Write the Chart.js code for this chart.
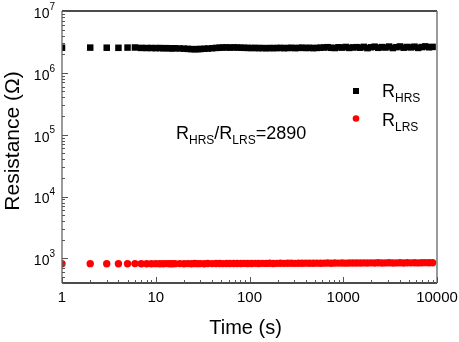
<!DOCTYPE html>
<html>
<head>
<meta charset="utf-8">
<script src="https://cdn.jsdelivr.net/npm/chart.js@4/dist/chart.umd.min.js"></script>
<style>
  html, body { margin: 0; padding: 0; background: #fff; }
  #myChart { display: block; }
</style>
</head>
<body>
<canvas id="myChart" width="459" height="342"></canvas>
<script>
// 측정 시간 (s)
var times = [1,2,3,4,5,6,7,8,9,10,11,12,13,14,15,16,
  18,20,22,24,26,28,30,33,36,40,
  44,48,52,57,62,68,74,81,88,96,
  105,115,125,137,150,164,179,196,214,234,
  256,280,306,334,365,399,436,477,521,570,
  623,681,744,813,889,972,1062,1161,1269,1387,
  1516,1657,1811,1979,2163,2364,2584,2824,3087,3374,
  3688,4031,4406,4816,5264,5754,6289,6874,7513,8212,
  8976];

// 고저항 상태 (Ohm)
var hrsVals = [2.55e6,2.56e6,2.55e6,2.54e6,2.56e6,2.57e6,2.53e6,2.52e6,2.52e6,2.51e6,2.52e6,2.50e6,2.51e6,2.50e6,2.49e6,2.50e6,
  2.48e6,2.46e6,2.44e6,2.42e6,2.41e6,2.42e6,2.43e6,2.45e6,2.47e6,2.50e6,
  2.53e6,2.55e6,2.57e6,2.58e6,2.56e6,2.58e6,2.57e6,2.55e6,2.54e6,2.53e6,
  2.52e6,2.53e6,2.51e6,2.52e6,2.50e6,2.52e6,2.51e6,2.52e6,2.53e6,2.51e6,
  2.52e6,2.54e6,2.51e6,2.53e6,2.55e6,2.52e6,2.54e6,2.51e6,2.53e6,2.55e6,
  2.57e6,2.60e6,2.54e6,2.52e6,2.59e6,2.56e6,2.62e6,2.53e6,2.58e6,2.60e6,
  2.55e6,2.63e6,2.51e6,2.59e6,2.65e6,2.54e6,2.61e6,2.57e6,2.66e6,2.52e6,
  2.60e6,2.67e6,2.55e6,2.62e6,2.58e6,2.65e6,2.53e6,2.61e6,2.68e6,2.59e6,
  2.63e6];

// 저저항 상태 (Ohm)
var lrsVals = [820,822,818,821,819,823,820,818,821,822,819,820,823,821,819,822,
  824,821,823,820,825,822,824,821,826,823,
  825,827,824,828,826,829,825,828,830,827,
  829,831,828,832,830,833,829,832,834,831,
  833,835,832,836,834,837,833,836,838,835,
  838,841,836,842,839,843,837,841,844,840,
  842,846,840,847,843,848,841,846,849,844,
  846,850,843,851,847,852,845,850,854,848,
  851];

var xTickLabels = ['1', '10', '100', '1000', '10000'];
var yDecades = [3, 4, 5, 6, 7];
var seriesNames = ['HRS', 'LRS'];
var ratioText = '=2890';

var FONT = '"Liberation Sans", Arial, sans-serif';

function toPoints(xs, ys) {
  var pts = [];
  for (var i = 0; i < xs.length; i++) pts.push({ x: xs[i], y: ys[i] });
  return pts;
}

// R + 아래첨자 텍스트
function drawSubText(ctx, x, y, main, sub, size, subSize) {
  ctx.font = size + 'px ' + FONT;
  ctx.textAlign = 'left';
  ctx.textBaseline = 'alphabetic';
  ctx.fillText(main, x, y);
  var w = ctx.measureText(main).width;
  ctx.font = subSize + 'px ' + FONT;
  ctx.fillText(sub, x + w, y + 5);
  return x + w + ctx.measureText(sub).width;
}

const framePlugin = {
  id: 'frame',
  afterDatasetsDraw(chart) {
    const ctx = chart.ctx;
    const a = chart.chartArea;
    const xs = chart.scales.x;
    const ys = chart.scales.y;
    ctx.save();

    // 테두리 (위/아래 검정, 좌/우 회색)
    ctx.lineWidth = 1.3;
    ctx.strokeStyle = '#111';
    ctx.beginPath();
    ctx.moveTo(a.left, a.top); ctx.lineTo(a.right, a.top);
    ctx.moveTo(a.left, a.bottom); ctx.lineTo(a.right, a.bottom);
    ctx.stroke();
    ctx.strokeStyle = '#666';
    ctx.beginPath();
    ctx.moveTo(a.left, a.top); ctx.lineTo(a.left, a.bottom);
    ctx.moveTo(a.right, a.top); ctx.lineTo(a.right, a.bottom);
    ctx.stroke();

    // 눈금 (안쪽)
    ctx.strokeStyle = '#555';
    ctx.lineWidth = 1;
    for (var e = 0; e <= 4; e++) {
      for (var m = 1; m <= 9; m++) {
        var v = m * Math.pow(10, e);
        if (v < xs.min || v > xs.max) continue;
        var px = Math.round(xs.getPixelForValue(v)) + 0.5;
        var len = m === 1 ? 6 : 3;
        ctx.beginPath();
        ctx.moveTo(px, a.bottom);
        ctx.lineTo(px, a.bottom - len);
        ctx.stroke();
      }
    }
    for (var e2 = 2; e2 <= 7; e2++) {
      for (var m2 = 1; m2 <= 9; m2++) {
        var v2 = m2 * Math.pow(10, e2);
        if (v2 < ys.min || v2 > ys.max) continue;
        var py = Math.round(ys.getPixelForValue(v2)) + 0.5;
        var len2 = m2 === 1 ? 6 : 3;
        ctx.beginPath();
        ctx.moveTo(a.left, py);
        ctx.lineTo(a.left + len2, py);
        ctx.stroke();
      }
    }

    ctx.fillStyle = '#000';
    // x 라벨
    ctx.font = '15px ' + FONT;
    ctx.textAlign = 'center';
    ctx.textBaseline = 'middle';
    xTickLabels.forEach(function (lb) {
      var px = xs.getPixelForValue(Number(lb));
      ctx.fillText(lb, px, a.bottom + 15);
    });

    // y 라벨 10^n
    yDecades.forEach(function (d) {
      var py = ys.getPixelForValue(Math.pow(10, d));
      ctx.font = '10px ' + FONT;
      var sw = ctx.measureText(String(d)).width;
      ctx.textAlign = 'left';
      ctx.textBaseline = 'middle';
      ctx.fillText(String(d), a.left - 7 - sw, py - 4);
      ctx.font = '14px ' + FONT;
      ctx.textAlign = 'right';
      ctx.fillText('10', a.left - 7 - sw, py + 3);
    });

    // 축 제목
    ctx.font = '20px ' + FONT;
    ctx.textAlign = 'center';
    ctx.textBaseline = 'alphabetic';
    ctx.fillText('Time (s)', (a.left + a.right) / 2 - 4, 334);

    ctx.save();
    ctx.translate(19, (a.top + a.bottom) / 2 - 6);
    ctx.rotate(-Math.PI / 2);
    ctx.font = '21px ' + FONT;
    ctx.fillText('Resistance (\u03A9)', 0, 0);
    ctx.restore();

    // 범례
    ctx.fillStyle = '#000';
    ctx.fillRect(353, 88, 6, 6);
    drawSubText(ctx, 382, 97, 'R', seriesNames[0], 18, 12);
    ctx.fillStyle = '#ff0000';
    ctx.beginPath();
    ctx.arc(356, 118.5, 3.3, 0, Math.PI * 2);
    ctx.fill();
    ctx.fillStyle = '#000';
    drawSubText(ctx, 382, 126, 'R', seriesNames[1], 18, 12);

    // 비율 표시
    var nx = drawSubText(ctx, 176, 139, 'R', seriesNames[0], 18, 12);
    ctx.font = '18px ' + FONT;
    ctx.fillText('/', nx, 139);
    nx += ctx.measureText('/').width;
    nx = drawSubText(ctx, nx, 139, 'R', seriesNames[1], 18, 12);
    ctx.font = '18px ' + FONT;
    ctx.fillText(ratioText, nx, 139);

    ctx.restore();
  }
};

const chartConfig = {
  type: 'scatter',
  data: {
    datasets: [
      {
        label: 'R_HRS',
        data: toPoints(times, hrsVals),
        pointStyle: 'rect',
        pointRadius: 4.6,
        backgroundColor: '#000',
        borderWidth: 0,
      },
      {
        label: 'R_LRS',
        data: toPoints(times, lrsVals),
        pointStyle: 'circle',
        pointRadius: 3.7,
        backgroundColor: '#ff0000',
        borderWidth: 0,
      },
    ],
  },
  options: {
    responsive: false,
    animation: false,
    layout: {
      padding: { left: 62, right: 22, top: 11, bottom: 59 },
    },
    plugins: {
      legend: { display: false },
      title: { display: false },
      tooltip: { enabled: false },
    },
    scales: {
      x: {
        type: 'logarithmic',
        min: 1,
        max: 10000,
        display: false,
      },
      y: {
        type: 'logarithmic',
        min: 400,
        max: 1e7,
        display: false,
      },
    },
  },
  plugins: [framePlugin],
};

var myChart = new Chart(document.getElementById('myChart'), chartConfig);
</script>
</body>
</html>
